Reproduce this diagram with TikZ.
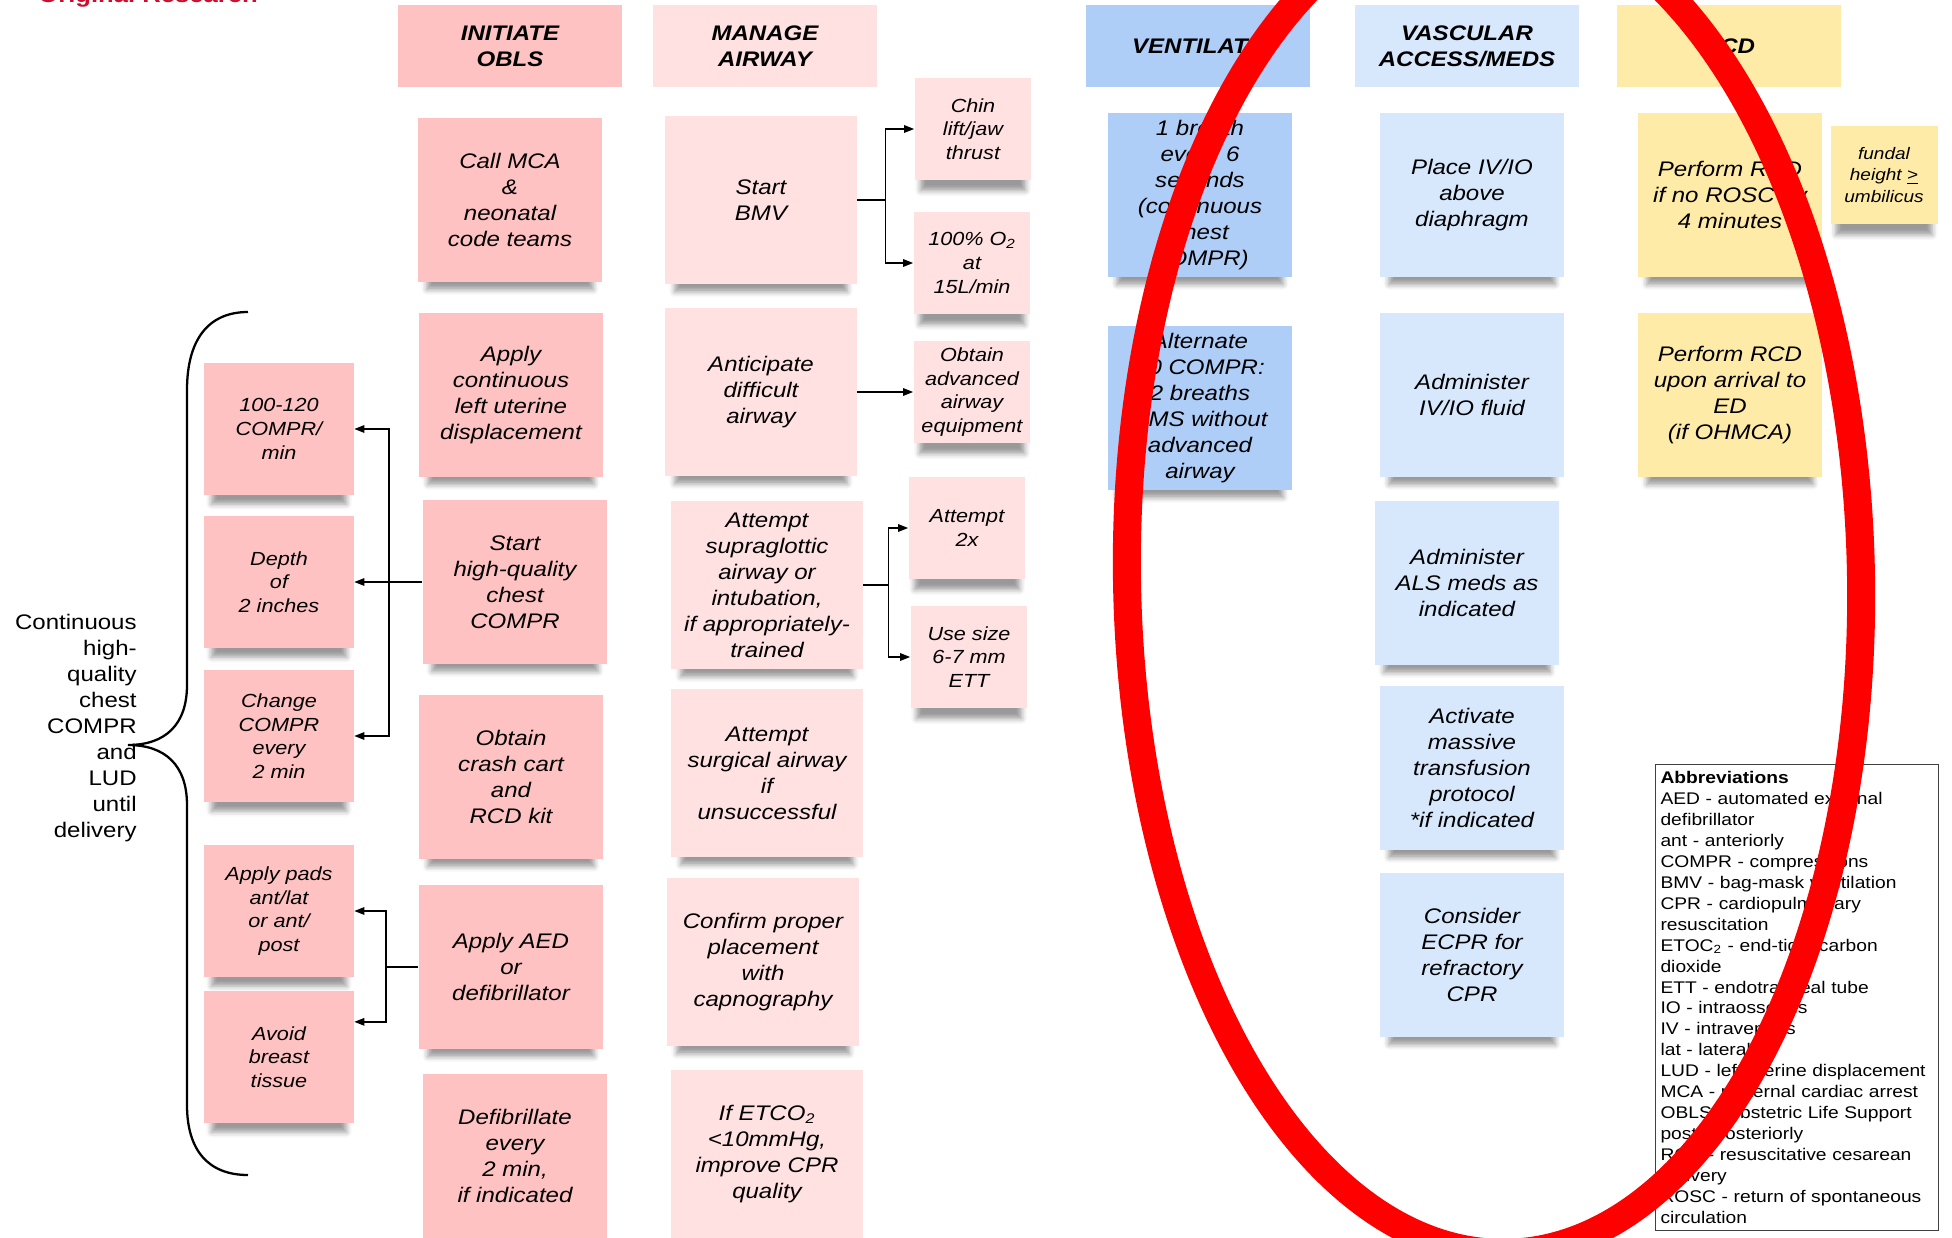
\documentclass[tikz,border=0pt]{standalone}
\usepackage{fontspec}
\setmainfont{Liberation Sans}[FakeStretch=1.14]
\usetikzlibrary{arrows.meta,calc,shadows.blur}
\definecolor{oblspink}{HTML}{FFC2C2}
\definecolor{airpink}{HTML}{FFE1E1}
\definecolor{ventblue}{HTML}{AECDF7}
\definecolor{vascblue}{HTML}{D7E8FD}
\definecolor{rcdyellow}{HTML}{FFEBA8}
\definecolor{titlered}{HTML}{C8102E}
\newcommand{\cardfont}{\fontsize{12}{14.8}\selectfont\itshape}
\newcommand{\subfont}{\fontsize{10.8}{13.5}\selectfont\itshape}
\newcommand{\hdrfont}{\fontsize{12}{14.8}\selectfont\bfseries\itshape}
\tikzset{
  card/.style={rectangle, inner sep=0pt, align=center, font=\cardfont,
    blur shadow={shadow xshift=0pt, shadow yshift=-0.35cm, shadow scale=0.9,
      shadow blur radius=0.12cm, shadow opacity=40}},
  obls/.style={card, fill=oblspink, minimum width=3.7cm, minimum height=3.28cm},
  airw/.style={card, fill=airpink, minimum width=3.84cm, minimum height=3.38cm},
  vent/.style={card, fill=ventblue, minimum width=3.7cm, minimum height=3.28cm},
  vasc/.style={card, fill=vascblue, minimum width=3.7cm, minimum height=3.28cm},
  rcdbox/.style={card, fill=rcdyellow, minimum width=3.7cm, minimum height=3.28cm},
  leftsub/.style={card, fill=oblspink, font=\subfont, minimum width=3cm, minimum height=2.64cm},
  rightsub/.style={card, fill=airpink, font=\subfont, minimum width=2.34cm, minimum height=2.04cm},
  hdr/.style={rectangle, inner sep=0pt, align=center, font=\hdrfont,
    minimum width=4.5cm, minimum height=1.64cm},
  arr/.style={draw, line width=0.8pt, -{Triangle[length=0.2cm,width=0.15cm]}},
}
\begin{document}
\begin{tikzpicture}[x=0.02cm, y=-0.02cm]
\useasboundingbox (0,0) rectangle (1952,1238);
% cut-off title
\node[anchor=base west, inner sep=0pt, text=titlered,
  font=\fontsize{12.8}{14}\selectfont\bfseries] (title) at (38,2.5) {Original Research};
% column headers
\node[hdr, fill=oblspink] (hobls) at (510,46) {INITIATE\\OBLS};
\node[hdr, fill=airpink] (hair) at (765,46) {MANAGE\\AIRWAY};
\node[hdr, fill=ventblue] (hvent) at (1198,46) {VENTILATE};
\node[hdr, fill=vascblue] (hvasc) at (1467,46) {VASCULAR\\ACCESS/MEDS};
\node[hdr, fill=rcdyellow] (hrcd) at (1729,46) {RCD};
% initiate OBLS
\node[obls] (callmca) at (510,200) {Call MCA\\\&\\neonatal\\code teams};
\node[obls] (lud) at (511,395) {Apply\\continuous\\left uterine\\displacement};
\node[obls] (hqcpr) at (515,582) {Start\\high-quality\\chest\\COMPR};
\node[obls] (crash) at (511,777) {Obtain\\crash cart\\and\\RCD kit};
\node[obls] (aed) at (511,967) {Apply AED\\or\\defibrillator};
\node[obls] (defib) at (515,1156) {Defibrillate\\every\\2 min,\\if indicated};
% compression details
\node[leftsub] (rate) at (279,429) {100-120\\COMPR/\\min};
\node[leftsub] (depth) at (279,582) {Depth\\of\\2 inches};
\node[leftsub] (change) at (279,736) {Change\\COMPR\\every\\2 min};
\node[leftsub] (pads) at (279,911) {Apply pads\\ant/lat\\or ant/\\post};
\node[leftsub] (breast) at (279,1057) {Avoid\\breast\\tissue};
% brace and its label
\draw[line width=1.3pt] (248,312) .. controls (208,312) and (187,340) .. (187,390)
  -- (187,685) .. controls (187,725) and (165,745) .. (128,745)
  .. controls (165,745) and (187,765) .. (187,805)
  -- (187,1105) .. controls (187,1150) and (208,1175) .. (248,1175);
\node[anchor=east, align=right, inner sep=0pt, font=\fontsize{12}{14.8}\selectfont]
  (brtext) at (137,728) {Continuous\\high-\\quality\\chest\\COMPR\\and\\LUD\\until\\delivery};
% manage airway
\node[airw] (bmv) at (761,200) {Start\\BMV};
\node[airw] (anticip) at (761,392) {Anticipate\\difficult\\airway};
\node[airw] (supra) at (767,585) {Attempt\\supraglottic\\airway or\\intubation,\\if appropriately-\\trained};
\node[airw] (surg) at (767,773) {Attempt\\surgical airway\\if\\unsuccessful};
\node[airw] (confirm) at (763,962) {Confirm proper\\placement\\with\\capnography};
\node[airw] (etco) at (767,1154) {If ETCO\textsubscript{2}\\<10mmHg,\\improve CPR\\quality};
% airway details
\node[rightsub] (chin) at (973,129) {Chin\\lift/jaw\\thrust};
\node[rightsub] (otwo) at (972,263) {100\% O\textsubscript{2}\\at\\15L/min};
\node[rightsub] (advequip) at (972,392) {Obtain\\advanced\\airway\\equipment};
\node[rightsub] (twox) at (967,528) {Attempt\\2x};
\node[rightsub] (ett) at (969,657) {Use size\\6-7 mm\\ETT};
% ventilate
\node[vent] (breath) at (1200,195) {1 breath\\every 6\\seconds\\(continuous\\chest\\COMPR)};
\node[vent] (alternate) at (1200,408) {Alternate\\30 COMPR:\\2 breaths\\EMS without\\advanced\\airway};
% vascular access / meds
\node[vasc] (placeiv) at (1472,195) {Place IV/IO\\above\\diaphragm};
\node[vasc] (fluid) at (1472,395) {Administer\\IV/IO fluid};
\node[vasc] (als) at (1467,583) {Administer\\ALS meds as\\indicated};
\node[vasc] (mtp) at (1472,768) {Activate\\massive\\transfusion\\protocol\\*if indicated};
\node[vasc] (ecpr) at (1472,955) {Consider\\ECPR for\\refractory\\CPR};
% RCD
\node[rcdbox] (rcdnorosc) at (1730,195) {Perform RCD\\if no ROSC by\\4 minutes};
\node[rcdbox, font=\fontsize{9.5}{12.4}\selectfont\itshape, minimum width=2.14cm,
  minimum height=1.96cm] (fundal) at (1884,175) {fundal\\height \underline{>}\\umbilicus};
\node[rcdbox] (rcded) at (1730,395) {Perform RCD\\upon arrival to\\ED\\(if OHMCA)};
% abbreviations
\node[draw=black!75, line width=0.6pt, anchor=north west, align=left, inner xsep=0.1cm,
  inner ysep=0pt, text width=5.46cm, minimum width=5.66cm, minimum height=9.32cm,
  font=\fontsize{9.6}{11.9}\selectfont] (abbr) at (1655,764)
  {\textbf{Abbreviations}\\AED - automated external\\defibrillator\\ant - anteriorly\\
   COMPR - compressions\\BMV - bag-mask ventilation\\CPR - cardiopulmonary\\
   resuscitation\\ETOC\textsubscript{2} - end-tidal carbon\\dioxide\\
   ETT - endotracheal tube\\IO - intraosseous\\IV - intravenous\\lat - lateral\\
   LUD - left uterine displacement\\MCA - maternal cardiac arrest\\
   OBLS - obstetric Life Support\\post - posteriorly\\RCD - resuscitative cesarean\\
   delivery\\ROSC - return of spontaneous\\circulation};
% connectors
\draw[arr] (hqcpr.west) -- ++(-33,0) |- (rate.east);
\draw[arr] (hqcpr.west) -- (depth.east);
\draw[arr] (hqcpr.west) -- ++(-33,0) |- (change.east);
\draw[arr] (aed.west) -- ++(-32,0) |- (pads.east);
\draw[arr] (aed.west) -- ++(-32,0) |- ($(breast.north east)!0.235!(breast.south east)$);
\draw[arr] (bmv.east) -- ++(28,0) |- (chin.west);
\draw[arr] (bmv.east) -- ++(28,0) |- (otwo.west);
\draw[arr] (anticip.east) -- (advequip.west);
\draw[arr] (supra.east) -- ++(25,0) |- (twox.west);
\draw[arr] (supra.east) -- ++(25,0) |- (ett.west);
% red mark
\draw[red, line width=0.56cm, rotate around={1.1:(1494,579)}]
  (1494,579) ellipse [x radius=367, y radius=674];
\end{tikzpicture}
\end{document}
